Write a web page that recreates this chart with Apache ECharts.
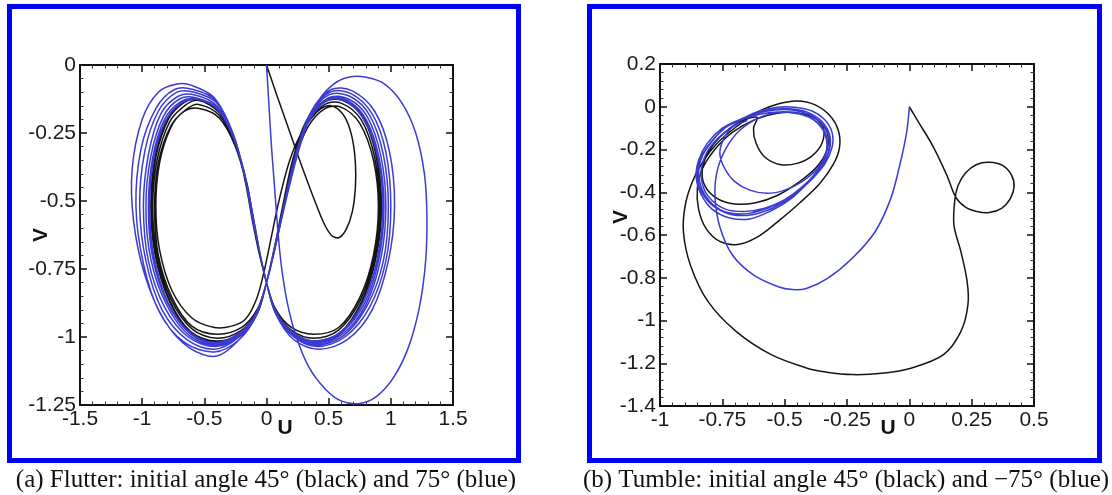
<!DOCTYPE html>
<html>
<head>
<meta charset="utf-8">
<script src="https://cdn.jsdelivr.net/npm/echarts@6/dist/echarts.min.js"></script>
<style>
html,body{margin:0;padding:0;background:#fff;}
#chart{width:1112px;height:495px;}
</style>
</head>
<body>
<div id="chart"></div>
<script>
// ---------- Panel (a): Flutter ----------
const flutterXTicks = [-1.5, -1, -0.5, 0, 0.5, 1, 1.5];
const flutterYTicks = [0, -0.25, -0.5, -0.75, -1, -1.25];

const flutterBlackStart = [[0,0],[0.09,-0.12],[0.19,-0.25],[0.29,-0.38],[0.38,-0.49],[0.46,-0.58],[0.52,-0.625],[0.58,-0.635],[0.64,-0.605],[0.69,-0.54],[0.715,-0.45],[0.715,-0.36],[0.69,-0.27],[0.64,-0.2],[0.57,-0.16],[0.49,-0.15],[0.39,-0.18],[0.27,-0.26],[0.18,-0.36],[0.1,-0.5],[0.04,-0.63],[-0.02,-0.76],[-0.08,-0.86],[-0.17,-0.935],[-0.28,-0.96],[-0.42,-0.965],[-0.6,-0.93],[-0.76,-0.83],[-0.86,-0.68],[-0.89,-0.52],[-0.86,-0.36],[-0.77,-0.23],[-0.66,-0.17]];
const flutterBlackLap1 = [[-0.54,-0.16],[-0.38,-0.195],[-0.25,-0.3],[-0.16,-0.44],[-0.1,-0.58],[-0.05,-0.7],[0.0,-0.8],[0.07,-0.895],[0.2,-0.965],[0.38,-0.99],[0.58,-0.965],[0.75,-0.855],[0.86,-0.7],[0.9,-0.52],[0.86,-0.35],[0.75,-0.215],[0.6,-0.155],[0.47,-0.16],[0.33,-0.23],[0.22,-0.36],[0.14,-0.52],[0.07,-0.67],[0.0,-0.8],[-0.07,-0.895],[-0.2,-0.965],[-0.4,-0.99],[-0.6,-0.96],[-0.76,-0.855],[-0.87,-0.7],[-0.9,-0.52],[-0.87,-0.36],[-0.77,-0.225],[-0.65,-0.165]];
const flutterBlackLap2 = [[-0.545,-0.145],[-0.38,-0.185],[-0.25,-0.29],[-0.16,-0.43],[-0.1,-0.58],[-0.05,-0.7],[0.0,-0.8],[0.07,-0.9],[0.2,-0.975],[0.38,-1.005],[0.58,-0.975],[0.76,-0.86],[0.87,-0.7],[0.91,-0.52],[0.87,-0.34],[0.76,-0.2],[0.6,-0.14],[0.47,-0.145],[0.32,-0.22],[0.21,-0.36],[0.14,-0.52],[0.07,-0.67],[0.0,-0.8],[-0.07,-0.9],[-0.2,-0.975],[-0.4,-1.005],[-0.6,-0.97],[-0.77,-0.86],[-0.88,-0.7],[-0.915,-0.52],[-0.88,-0.35],[-0.78,-0.21],[-0.66,-0.15]];
const flutterBlackLap3 = [[-0.55,-0.13],[-0.38,-0.175],[-0.25,-0.285],[-0.165,-0.43],[-0.105,-0.58],[-0.05,-0.7],[0.0,-0.8],[0.07,-0.905],[0.2,-0.985],[0.38,-1.015],[0.59,-0.985],[0.77,-0.865],[0.88,-0.7],[0.92,-0.52],[0.88,-0.33],[0.77,-0.19],[0.61,-0.13],[0.47,-0.135],[0.32,-0.21],[0.21,-0.355],[0.13,-0.52],[0.065,-0.67],[0.0,-0.8],[-0.07,-0.905],[-0.2,-0.985],[-0.4,-1.015],[-0.61,-0.98],[-0.78,-0.865],[-0.89,-0.7],[-0.925,-0.52],[-0.89,-0.34],[-0.79,-0.2],[-0.67,-0.14]];
const flutterBlackLap4 = [[-0.555,-0.125],[-0.38,-0.17],[-0.25,-0.28],[-0.17,-0.43],[-0.11,-0.58],[-0.055,-0.7],[0.0,-0.8],[0.07,-0.91],[0.2,-0.99],[0.38,-1.02],[0.59,-0.99],[0.77,-0.87],[0.885,-0.7],[0.925,-0.52],[0.885,-0.33],[0.775,-0.185],[0.61,-0.125],[0.47,-0.13],[0.32,-0.205],[0.21,-0.35],[0.13,-0.52],[0.065,-0.67],[0.0,-0.8],[-0.07,-0.91],[-0.2,-0.99],[-0.4,-1.02],[-0.61,-0.985],[-0.78,-0.87],[-0.895,-0.7],[-0.93,-0.52],[-0.895,-0.335],[-0.795,-0.195],[-0.67,-0.135],[-0.555,-0.125]];

const flutterBlueStart = [[0,0],[0.02,-0.15],[0.04,-0.3],[0.065,-0.45],[0.09,-0.6],[0.12,-0.74],[0.17,-0.88],[0.24,-1.0],[0.34,-1.11],[0.47,-1.19],[0.6,-1.235],[0.74,-1.245],[0.88,-1.22],[1.02,-1.15],[1.14,-1.04],[1.23,-0.89],[1.28,-0.72],[1.29,-0.55],[1.27,-0.4],[1.2,-0.25],[1.09,-0.14],[0.95,-0.07],[0.8,-0.045],[0.66,-0.045],[0.54,-0.07],[0.42,-0.13],[0.31,-0.24],[0.22,-0.38],[0.14,-0.53],[0.07,-0.67],[0.0,-0.8],[-0.08,-0.91],[-0.2,-1.0],[-0.4,-1.07],[-0.62,-1.04],[-0.82,-0.94],[-0.98,-0.77],[-1.07,-0.57],[-1.08,-0.38],[-1.0,-0.2],[-0.87,-0.1],[-0.72,-0.07]];
const flutterBlueLap1 = [[-0.6,-0.075],[-0.42,-0.12],[-0.28,-0.24],[-0.18,-0.4],[-0.11,-0.57],[-0.05,-0.7],[0.0,-0.8],[0.08,-0.92],[0.22,-1.01],[0.42,-1.045],[0.65,-1.01],[0.85,-0.9],[0.98,-0.72],[1.03,-0.52],[0.99,-0.32],[0.87,-0.17],[0.69,-0.095],[0.52,-0.09],[0.36,-0.17],[0.24,-0.32],[0.15,-0.5],[0.07,-0.66],[0.0,-0.8],[-0.08,-0.92],[-0.22,-1.01],[-0.42,-1.055],[-0.66,-1.02],[-0.86,-0.91],[-0.99,-0.73],[-1.05,-0.52],[-1.01,-0.31],[-0.89,-0.16],[-0.74,-0.09]];
const flutterBlueLap2 = [[-0.59,-0.09],[-0.41,-0.13],[-0.27,-0.25],[-0.175,-0.41],[-0.11,-0.57],[-0.05,-0.7],[0.0,-0.8],[0.08,-0.915],[0.22,-1.0],[0.41,-1.035],[0.63,-1.0],[0.83,-0.89],[0.96,-0.72],[1.0,-0.52],[0.96,-0.32],[0.85,-0.18],[0.68,-0.105],[0.51,-0.1],[0.35,-0.18],[0.235,-0.33],[0.15,-0.5],[0.07,-0.66],[0.0,-0.8],[-0.08,-0.915],[-0.22,-1.0],[-0.42,-1.045],[-0.64,-1.01],[-0.84,-0.9],[-0.97,-0.72],[-1.02,-0.52],[-0.98,-0.32],[-0.87,-0.17],[-0.72,-0.1]];
const flutterBlueLap3 = [[-0.58,-0.1],[-0.4,-0.14],[-0.265,-0.26],[-0.17,-0.415],[-0.105,-0.575],[-0.05,-0.7],[0.0,-0.8],[0.075,-0.91],[0.21,-0.995],[0.4,-1.03],[0.62,-0.995],[0.81,-0.885],[0.94,-0.72],[0.98,-0.52],[0.94,-0.33],[0.83,-0.185],[0.67,-0.115],[0.5,-0.11],[0.345,-0.19],[0.23,-0.34],[0.145,-0.51],[0.07,-0.665],[0.0,-0.8],[-0.075,-0.91],[-0.21,-0.995],[-0.41,-1.035],[-0.63,-1.0],[-0.82,-0.89],[-0.95,-0.72],[-0.99,-0.52],[-0.95,-0.33],[-0.85,-0.18],[-0.71,-0.115]];
const flutterBlueLap4 = [[-0.575,-0.11],[-0.4,-0.15],[-0.26,-0.27],[-0.17,-0.42],[-0.105,-0.575],[-0.05,-0.7],[0.0,-0.8],[0.075,-0.91],[0.21,-0.99],[0.4,-1.025],[0.61,-0.99],[0.8,-0.88],[0.92,-0.71],[0.96,-0.52],[0.92,-0.335],[0.81,-0.19],[0.66,-0.125],[0.5,-0.12],[0.34,-0.2],[0.225,-0.345],[0.145,-0.51],[0.07,-0.665],[0.0,-0.8],[-0.075,-0.91],[-0.21,-0.99],[-0.41,-1.03],[-0.62,-0.995],[-0.8,-0.885],[-0.93,-0.715],[-0.97,-0.52],[-0.93,-0.335],[-0.83,-0.19],[-0.7,-0.125]];
const flutterBlueLap5 = [[-0.57,-0.12],[-0.39,-0.16],[-0.26,-0.275],[-0.165,-0.425],[-0.1,-0.575],[-0.05,-0.7],[0.0,-0.8],[0.075,-0.905],[0.21,-0.985],[0.39,-1.02],[0.6,-0.985],[0.79,-0.875],[0.905,-0.71],[0.945,-0.52],[0.905,-0.34],[0.8,-0.2],[0.65,-0.13],[0.49,-0.125],[0.335,-0.205],[0.225,-0.35],[0.14,-0.515],[0.07,-0.665],[0.0,-0.8],[-0.075,-0.905],[-0.21,-0.985],[-0.41,-1.025],[-0.61,-0.99],[-0.79,-0.88],[-0.915,-0.71],[-0.95,-0.52],[-0.915,-0.34],[-0.82,-0.2],[-0.69,-0.135]];
const flutterBlueLap6 = [[-0.565,-0.125],[-0.39,-0.165],[-0.255,-0.28],[-0.165,-0.43],[-0.1,-0.58],[-0.05,-0.7],[0.0,-0.8],[0.075,-0.905],[0.205,-0.98],[0.39,-1.015],[0.6,-0.98],[0.78,-0.87],[0.895,-0.705],[0.935,-0.52],[0.895,-0.34],[0.79,-0.205],[0.645,-0.135],[0.49,-0.13],[0.335,-0.21],[0.22,-0.355],[0.14,-0.515],[0.07,-0.665],[0.0,-0.8],[-0.075,-0.905],[-0.205,-0.98],[-0.41,-1.02],[-0.61,-0.985],[-0.79,-0.875],[-0.905,-0.705],[-0.94,-0.52],[-0.905,-0.34],[-0.81,-0.205],[-0.685,-0.14],[-0.565,-0.125]];

// ---------- Panel (b): Tumble ----------
const tumbleXTicks = [-1, -0.75, -0.5, -0.25, 0, 0.25, 0.5];
const tumbleYTicks = [0.2, 0, -0.2, -0.4, -0.6, -0.8, -1, -1.2, -1.4];

const tumbleBlackPath = [[0,0],[0.038,-0.074],[0.094,-0.183],[0.151,-0.322],[0.186,-0.423],[0.225,-0.47],[0.27,-0.49],[0.32,-0.495],[0.37,-0.475],[0.405,-0.43],[0.42,-0.375],[0.41,-0.32],[0.375,-0.275],[0.32,-0.26],[0.27,-0.27],[0.225,-0.31],[0.195,-0.37],[0.182,-0.44],[0.179,-0.555],[0.207,-0.679],[0.232,-0.819],[0.235,-0.927],[0.207,-1.051],[0.137,-1.16],[0.01,-1.222],[-0.11,-1.247],[-0.23,-1.253],[-0.33,-1.242],[-0.413,-1.222],[-0.554,-1.16],[-0.695,-1.051],[-0.807,-0.912],[-0.878,-0.741],[-0.906,-0.586],[-0.899,-0.462],[-0.871,-0.353],[-0.83,-0.26],[-0.77,-0.17],[-0.69,-0.09],[-0.6,-0.02],[-0.52,0.015],[-0.45,0.027],[-0.38,0.01],[-0.32,-0.04],[-0.285,-0.11],[-0.28,-0.19],[-0.305,-0.27],[-0.36,-0.36],[-0.44,-0.45],[-0.53,-0.54],[-0.61,-0.61],[-0.69,-0.645],[-0.76,-0.63],[-0.815,-0.57],[-0.845,-0.48],[-0.85,-0.38],[-0.83,-0.29],[-0.78,-0.2],[-0.71,-0.12],[-0.62,-0.06],[-0.53,-0.03],[-0.44,-0.03],[-0.37,-0.06],[-0.33,-0.12],[-0.33,-0.2],[-0.37,-0.28],[-0.44,-0.35],[-0.53,-0.415],[-0.62,-0.45],[-0.7,-0.455],[-0.77,-0.43],[-0.82,-0.37],[-0.83,-0.29],[-0.8,-0.2],[-0.74,-0.12],[-0.67,-0.065],[-0.61,-0.05],[-0.625,-0.1],[-0.615,-0.17],[-0.58,-0.235],[-0.52,-0.27],[-0.45,-0.265],[-0.39,-0.23],[-0.35,-0.17],[-0.345,-0.1],[-0.38,-0.05]];

const tumbleBlueStart = [[0,0],[-0.011,-0.121],[-0.039,-0.276],[-0.075,-0.431],[-0.138,-0.586],[-0.23,-0.71],[-0.328,-0.803],[-0.413,-0.85],[-0.47,-0.855],[-0.526,-0.842],[-0.624,-0.788],[-0.709,-0.695],[-0.758,-0.57],[-0.779,-0.431],[-0.772,-0.307],[-0.737,-0.198],[-0.68,-0.11],[-0.6,-0.05],[-0.51,-0.025],[-0.43,-0.035],[-0.37,-0.075],[-0.335,-0.14],[-0.335,-0.22],[-0.37,-0.29],[-0.43,-0.35],[-0.5,-0.39],[-0.57,-0.405],[-0.64,-0.39],[-0.7,-0.35],[-0.74,-0.29],[-0.76,-0.22],[-0.745,-0.15],[-0.71,-0.095]];
const tumbleBlueLap1 = [[-0.66,-0.05],[-0.6,-0.02],[-0.53,-0.002],[-0.46,-0.002],[-0.39,-0.02],[-0.34,-0.06],[-0.31,-0.12],[-0.31,-0.19],[-0.34,-0.27],[-0.4,-0.35],[-0.47,-0.42],[-0.55,-0.475],[-0.63,-0.505],[-0.71,-0.505],[-0.78,-0.47],[-0.83,-0.405],[-0.85,-0.33],[-0.84,-0.25],[-0.8,-0.17],[-0.74,-0.1]];
const tumbleBlueLap2 = [[-0.67,-0.055],[-0.6,-0.025],[-0.53,-0.01],[-0.46,-0.012],[-0.4,-0.03],[-0.35,-0.07],[-0.32,-0.13],[-0.32,-0.2],[-0.35,-0.28],[-0.41,-0.36],[-0.48,-0.435],[-0.56,-0.49],[-0.64,-0.525],[-0.72,-0.52],[-0.79,-0.48],[-0.835,-0.41],[-0.855,-0.33],[-0.845,-0.25],[-0.81,-0.17],[-0.75,-0.1]];
const tumbleBlueLap3 = [[-0.68,-0.06],[-0.61,-0.03],[-0.54,-0.015],[-0.47,-0.015],[-0.405,-0.035],[-0.355,-0.075],[-0.325,-0.135],[-0.325,-0.21],[-0.36,-0.29],[-0.42,-0.37],[-0.49,-0.43],[-0.57,-0.475],[-0.65,-0.5],[-0.73,-0.495],[-0.79,-0.455],[-0.83,-0.39],[-0.845,-0.31],[-0.83,-0.23],[-0.79,-0.16],[-0.74,-0.1]];
const tumbleBlueLap4 = [[-0.67,-0.06],[-0.6,-0.035],[-0.53,-0.025],[-0.46,-0.03],[-0.4,-0.05],[-0.355,-0.09],[-0.33,-0.15],[-0.335,-0.22],[-0.37,-0.3],[-0.43,-0.375],[-0.5,-0.435],[-0.58,-0.475],[-0.66,-0.49],[-0.735,-0.48],[-0.79,-0.44],[-0.825,-0.38],[-0.835,-0.3],[-0.815,-0.22],[-0.77,-0.15],[-0.71,-0.095],[-0.65,-0.065]];

const captionA = '(a) Flutter: initial angle 45\u00B0 (black) and 75\u00B0 (blue)';
const captionB = '(b) Tumble: initial angle 45\u00B0 (black) and \u221275\u00B0 (blue)';

// ---------- build ----------
const BLACK = '#151515';
const BLUE = '#3b3bd4';
const labelFont = {fontFamily: 'Liberation Sans', fontSize: 21, color: '#1a1a1a'};

function mkAxis(gi, min, max, interval, pos, labels) {
  return {
    type: 'value', gridIndex: gi, min: min, max: max, interval: interval, position: pos,
    axisLine: {show: true, onZero: false, lineStyle: {color: '#111', width: 2}},
    axisTick: {show: true, inside: true, length: 7, lineStyle: {color: '#111', width: 1.5}},
    minorTick: {show: true, splitNumber: 5, length: 3.5, lineStyle: {color: '#333', width: 1}},
    splitLine: {show: false},
    axisLabel: Object.assign({show: labels, margin: 4, showMinLabel: true, showMaxLabel: true, hideOverlap: false}, labelFont)
  };
}
// A trajectory drawn as one smooth polyline, positioned through the axes (api.coord).
function curve(data, color, xi, yi, z) {
  return {
    type: 'custom', data: data, xAxisIndex: xi, yAxisIndex: yi, z: z, silent: true,
    encode: {x: 0, y: 1},
    renderItem: function (params, api) {
      if (params.dataIndex !== 0) return null;
      const pts = data.map(function (p) { return api.coord(p); });
      return {
        type: 'polyline',
        shape: {points: pts, smooth: 0.33},
        style: {stroke: color, lineWidth: 1.5, fill: null, lineJoin: 'round'}
      };
    }
  };
}

const flutterBlack = [].concat(flutterBlackStart, flutterBlackLap1, flutterBlackLap2, flutterBlackLap3, flutterBlackLap4);
const flutterBlue = [].concat(flutterBlueStart, flutterBlueLap1, flutterBlueLap2, flutterBlueLap3, flutterBlueLap4, flutterBlueLap5, flutterBlueLap6);
const tumbleBlack = tumbleBlackPath;
const tumbleBlue = [].concat(tumbleBlueStart, tumbleBlueLap1, tumbleBlueLap2, tumbleBlueLap3, tumbleBlueLap4);

const chart = echarts.init(document.getElementById('chart'), null, {renderer: 'canvas'});
const option = {
  animation: false,
  backgroundColor: '#fff',
  grid: [
    {left: 80, top: 65, width: 373, height: 340, containLabel: false, outerBoundsMode: 'none'},
    {left: 660, top: 64, width: 374, height: 342, containLabel: false, outerBoundsMode: 'none'}
  ],
  xAxis: [
    mkAxis(0, flutterXTicks[0], flutterXTicks[flutterXTicks.length-1], 0.5, 'bottom', true),
    mkAxis(0, flutterXTicks[0], flutterXTicks[flutterXTicks.length-1], 0.5, 'top', false),
    mkAxis(1, tumbleXTicks[0], tumbleXTicks[tumbleXTicks.length-1], 0.25, 'bottom', true),
    mkAxis(1, tumbleXTicks[0], tumbleXTicks[tumbleXTicks.length-1], 0.25, 'top', false)
  ],
  yAxis: [
    mkAxis(0, flutterYTicks[flutterYTicks.length-1], flutterYTicks[0], 0.25, 'left', true),
    mkAxis(0, flutterYTicks[flutterYTicks.length-1], flutterYTicks[0], 0.25, 'right', false),
    mkAxis(1, tumbleYTicks[tumbleYTicks.length-1], tumbleYTicks[0], 0.2, 'left', true),
    mkAxis(1, tumbleYTicks[tumbleYTicks.length-1], tumbleYTicks[0], 0.2, 'right', false)
  ],
  series: [
    curve(flutterBlack, BLACK, 0, 0, 2),
    curve(flutterBlue, BLUE, 0, 0, 3),
    curve(tumbleBlack, BLACK, 2, 2, 2),
    curve(tumbleBlue, BLUE, 2, 2, 3)
  ],
  graphic: [
    {type: 'rect', shape: {x: 9.5, y: 6.5, width: 509, height: 454}, style: {fill: null, stroke: '#0000ff', lineWidth: 5}, silent: true},
    {type: 'rect', shape: {x: 589.5, y: 6.5, width: 510, height: 454}, style: {fill: null, stroke: '#0000ff', lineWidth: 5}, silent: true},
    {type: 'text', x: 285, y: 428, style: {text: 'U', font: 'bold 21px "Liberation Sans"', fill: '#111', textAlign: 'center', textVerticalAlign: 'middle'}},
    {type: 'text', x: 888, y: 428, style: {text: 'U', font: 'bold 21px "Liberation Sans"', fill: '#111', textAlign: 'center', textVerticalAlign: 'middle'}},
    {type: 'text', x: 41, y: 235, rotation: Math.PI/2, style: {text: 'V', font: 'bold 21px "Liberation Sans"', fill: '#111', textAlign: 'center', textVerticalAlign: 'middle'}},
    {type: 'text', x: 621, y: 217, rotation: Math.PI/2, style: {text: 'V', font: 'bold 21px "Liberation Sans"', fill: '#111', textAlign: 'center', textVerticalAlign: 'middle'}},
    {type: 'text', x: 266, y: 480, style: {text: captionA, font: '25px "Liberation Serif"', fill: '#111', textAlign: 'center', textVerticalAlign: 'middle'}},
    {type: 'text', x: 846, y: 480, style: {text: captionB, font: '25px "Liberation Serif"', fill: '#111', textAlign: 'center', textVerticalAlign: 'middle'}}
  ]
};
chart.setOption(option);
</script>
</body>
</html>
